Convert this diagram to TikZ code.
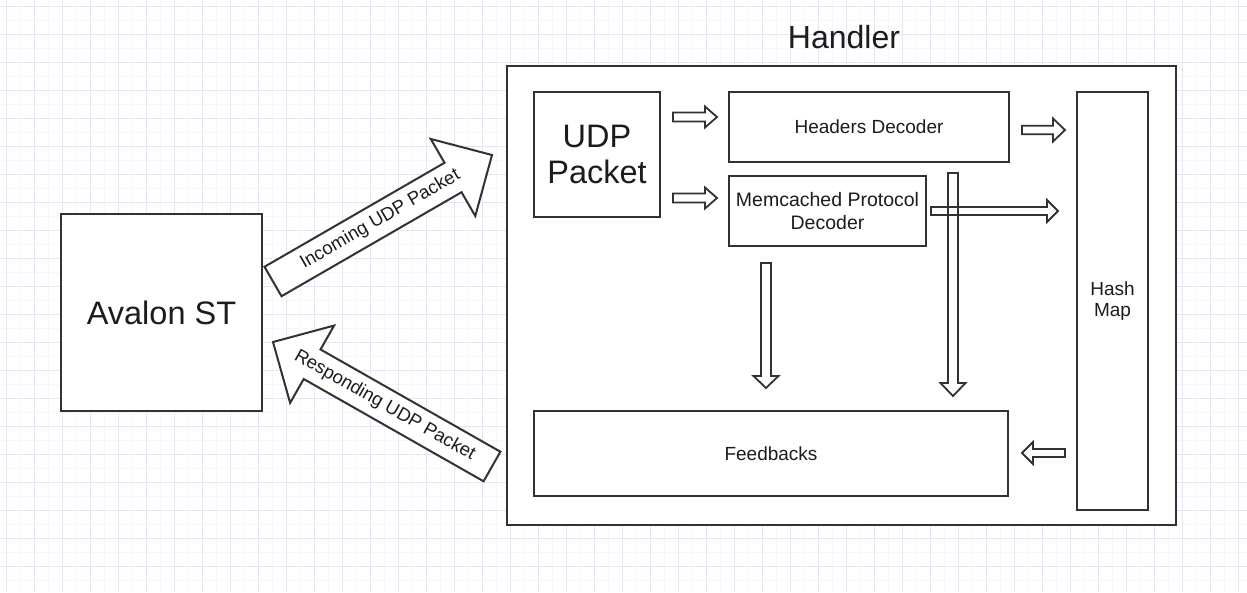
\documentclass[tikz,border=0pt]{standalone}
\usepackage{fontspec}
\setmainfont{Liberation Sans}
\usetikzlibrary{calc}

\definecolor{gridmajor}{RGB}{230,230,243}
\definecolor{gridminor}{RGB}{245,245,250}
\definecolor{ink}{RGB}{50,50,50}
\definecolor{txt}{RGB}{28,28,28}

\tikzset{
  box/.style={draw=ink, line width=2pt, fill=white, inner sep=0pt, text=txt, align=center},
  hollow/.style={draw=ink, line width=1.8pt, line join=miter, fill=none},
  bigarrow/.style={draw=ink, line width=2pt, line join=miter, fill=white},
  small/.style={font=\fontsize{19}{22}\selectfont},
  large/.style={font=\fontsize{32.5}{36}\selectfont},
  lbl/.style={font=\fontsize{18.5}{20}\selectfont, text=txt, inner sep=0pt},
}

% block arrow: #1 style, #2 tail, #3 tip, #4 shaft half width, #5 head half width, #6 head length
\newcommand\blockarrow[6]{%
  \path ($(#3)!#6!(#2)$) coordinate (hb);
  \draw[#1] ($(#2)!#4!90:(#3)$) -- ($(hb)!#4!90:(#3)$) -- ($(hb)!#5!90:(#3)$)
    -- (#3) -- ($(hb)!#5!-90:(#3)$) -- ($(hb)!#4!-90:(#3)$) -- ($(#2)!#4!-90:(#3)$) -- cycle;
}

\begin{document}
\begin{tikzpicture}[x=1pt, y=-1pt]
  \useasboundingbox (0,0) rectangle (1247,592);
  \fill[white] (0,0) rectangle (1247,592);

  % background grid
  \foreach \i in {0,...,43} \draw[gridminor, line width=0.8pt] ({20+28*\i},0) -- ({20+28*\i},592);
  \foreach \j in {0,...,20} \draw[gridminor, line width=0.8pt] (0,{20+28*\j}) -- (1247,{20+28*\j});
  \foreach \i in {0,...,44} \draw[gridmajor, line width=1pt] ({6+28*\i},0) -- ({6+28*\i},592);
  \foreach \j in {0,...,20} \draw[gridmajor, line width=1pt] (0,{6+28*\j}) -- (1247,{6+28*\j});

  % outer blocks
  \node[box, large, minimum width=201pt, minimum height=197pt] (avalon) at (161.5,312.5) {Avalon ST};
  \node[box, minimum width=669pt, minimum height=459pt] (handler) at (841.5,295.5) {};
  \node[text=txt, font=\fontsize{32}{36}\selectfont, anchor=base, inner sep=0pt] (title) at (844,48) {Handler};

  % blocks inside the handler
  \node[box, large, minimum width=126pt, minimum height=125pt] (udp) at (597,154.5) {UDP\\Packet};
  \node[box, small, minimum width=280pt, minimum height=70pt] (hdr) at (869,127) {Headers Decoder};
  \node[box, minimum width=197pt, minimum height=70pt, font=\fontsize{19.5}{23}\selectfont] (mem) at (827.5,211) {Memcached Protocol\\Decoder};
  \node[box, minimum width=71pt, minimum height=418pt, font=\fontsize{19}{20.5}\selectfont] (hash) at (1112.5,301) {Hash\\Map};
  \node[box, small, minimum width=474pt, minimum height=85pt] (fb) at (771,453.5) {Feedbacks};

  % end points of the arrows
  \coordinate (inTail) at (273,281.5);
  \coordinate (inTip)  at (492,155);
  \coordinate (outTail) at (492,466.5);
  \coordinate (outTip)  at (273,342);

  \coordinate (a1t) at (673,117);  \coordinate (a1h) at (717,117);
  \coordinate (a2t) at (673,198);  \coordinate (a2h) at (717,198);
  \coordinate (a3t) at (1022,130); \coordinate (a3h) at (1065,130);
  \coordinate (a4t) at (931,211);  \coordinate (a4h) at (1058,211);
  \coordinate (a5t) at (953,173);  \coordinate (a5h) at (953,396);
  \coordinate (a6t) at (766,263);  \coordinate (a6h) at (766,388);
  \coordinate (a7t) at (1065,453); \coordinate (a7h) at (1022,453);

  % packet flow between Avalon ST and the handler
  \blockarrow{bigarrow}{inTail}{inTip}{17pt}{44.5pt}{45pt}
  \path (inTail) -- (inTip) node[pos=0.49, sloped, lbl] {Incoming UDP Packet};
  \blockarrow{bigarrow}{outTail}{outTip}{17pt}{44.5pt}{45pt}
  \path (outTail) -- (outTip) node[pos=0.49, sloped, lbl] {Responding UDP Packet};

  % flow inside the handler
  \blockarrow{hollow}{a1t}{a1h}{4.5pt}{10.5pt}{12pt}
  \blockarrow{hollow}{a2t}{a2h}{4.5pt}{10.5pt}{12pt}
  \blockarrow{hollow}{a3t}{a3h}{4.2pt}{11.5pt}{12pt}
  \blockarrow{hollow}{a4t}{a4h}{4pt}{11pt}{11pt}
  \blockarrow{hollow}{a5t}{a5h}{5pt}{12.5pt}{13pt}
  \blockarrow{hollow}{a6t}{a6h}{5pt}{12.5pt}{12pt}
  \blockarrow{hollow}{a7t}{a7h}{4pt}{11pt}{11pt}
\end{tikzpicture}
\end{document}
